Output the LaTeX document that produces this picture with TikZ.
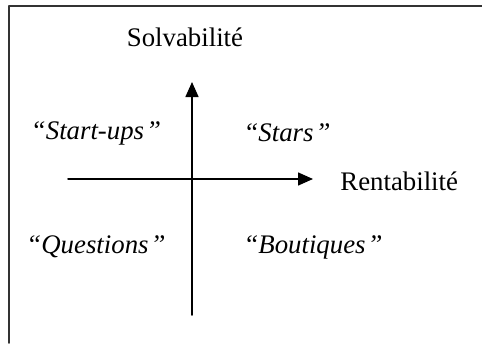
\documentclass[tikz,border=0pt]{standalone}
\usepackage{fontspec}
\setmainfont{Liberation Serif}
\usetikzlibrary{arrows.meta,positioning}

\tikzset{
  axe/.style={line width=.75pt,-{Triangle[length=7.5pt,width=6.5pt]}},
  quadrant/.style={font=\fontsize{13.4}{16}\selectfont\itshape,inner sep=0pt},
  axislabel/.style={font=\fontsize{13.4}{16}\selectfont,inner sep=0pt}
}

\begin{document}
\begin{tikzpicture}[line cap=round,line join=round,x=.5pt,y=.5pt]
\useasboundingbox (-192,-164) rectangle (290,179);
% cadre
\draw[line width=.8pt,color=black!80] (290,173) -- (-183,173) -- (-183,-164);

% axes
\coordinate (bas) at (0,-136);
\coordinate (haut) at (0,97);
\coordinate (gauche) at (-124,0);
\coordinate (droite) at (121,0);
\draw[axe] (bas) -- (haut);
\draw[axe] (gauche) -- (droite);

\node[axislabel] (solv) at (-7,142) {Solvabilité};
\node[axislabel,anchor=west,right=13.5pt of droite,yshift=-1pt] (rent) {Rentabilité};

% quadrants
\node[quadrant] (startups) at (-96,46) {“Start-ups\kern1pt”};
\node[quadrant] (stars) at (95,46) {“Stars\kern1pt”};
\node[quadrant] (questions) at (-96,-68) {“Questions\kern1pt”};
\node[quadrant] (boutiques) at (121,-68) {“Boutiques\kern1pt”};
\end{tikzpicture}
\end{document}
